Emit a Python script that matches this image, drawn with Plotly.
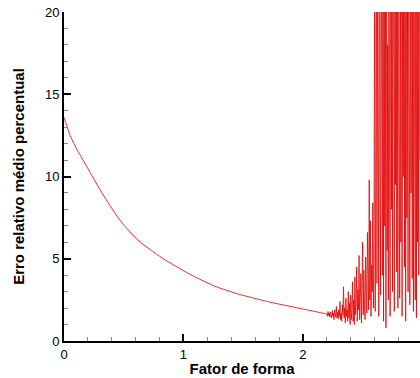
import numpy as np
import plotly.graph_objects as go

# Smooth part: x = 0.00 .. 2.15 step 0.05
smooth_x_step = 0.05
smooth_vals = [13.6, 12.5, 11.75, 11.1, 10.47, 9.85, 9.22, 8.62, 8.05, 7.52,
               7.05, 6.63, 6.26, 5.94, 5.66, 5.40, 5.15, 4.91, 4.69, 4.48,
               4.27, 4.07, 3.88, 3.70, 3.53, 3.37, 3.23, 3.10, 2.98, 2.87,
               2.77, 2.67, 2.58, 2.49, 2.40, 2.32, 2.24, 2.16, 2.08, 2.00,
               1.93, 1.86, 1.79, 1.72]

# Noisy part: x = 2.200 .. 2.980 step 0.005
noisy_x_start = 2.2
noisy_x_step = 0.005
noisy_vals = [
    1.65, 1.5, 1.8, 1.55, 1.7, 1.45, 1.75, 1.6, 1.4, 1.85,
    1.5, 1.7, 1.3, 1.9, 1.55, 1.45, 2.1, 1.4, 1.75, 1.35,
    1.9, 1.5, 2.4, 1.3, 1.7, 1.2, 2.2, 1.6, 3.3, 1.4,
    2.0, 1.1, 2.6, 1.5, 1.9, 1.2, 3.0, 1.4, 2.3, 1.0,
    2.8, 1.3, 1.9, 3.6, 1.2, 2.5, 1.0, 3.9, 1.6, 2.2,
    4.5, 1.2, 3.1, 1.9, 5.2, 1.3, 2.7, 4.1, 1.1, 3.4,
    6.0, 1.6, 4.3, 2.2, 1.3, 5.1, 2.8, 1.7, 6.6, 3.9,
    1.9, 9.8, 2.5, 7.3, 1.5, 4.6, 3.0, 8.4, 2.0, 5.5,
    24, 1.8, 9.0, 30, 3.5, 25, 6.5, 1.5, 35, 11,
    2.8, 28, 14, 4.0, 40, 1.2, 22, 7.0, 26, 0.8,
    33, 5.5, 18, 2.5, 30, 12, 1.5, 45, 8.0, 25,
    3.0, 38, 16, 1.8, 27, 9.5, 42, 4.2, 21, 2.0,
    35, 13, 2.6, 30, 6.0, 48, 1.5, 24, 10, 33,
    4.5, 28, 1.2, 40, 7.5, 22, 3.0, 36, 15, 2.2,
    31, 9.0, 44, 3.8, 26, 1.8, 38, 12, 2.5, 29,
    1.4, 35, 6.0, 23, 4.0, 40, 11,
]

x_tick_vals = [0, 1, 2]
x_tick_text = ["0", "1", "2"]
y_tick_vals = [0, 5, 10, 15, 20]
y_tick_text = ["0", "5", "10", "15", "20"]

xs = [round(i * smooth_x_step, 4) for i in range(len(smooth_vals))]
xs += [round(noisy_x_start + i * noisy_x_step, 4) for i in range(len(noisy_vals))]
ys = smooth_vals + noisy_vals

fig = go.Figure()
fig.add_trace(go.Scatter(x=xs, y=ys, mode="lines",
                         line=dict(color="rgb(225,0,0)", width=0.8),
                         showlegend=False, hoverinfo="skip"))

fig.update_layout(
    width=420, height=378,
    margin=dict(l=64, r=0, t=12, b=37),
    paper_bgcolor="white", plot_bgcolor="white",
    font=dict(family="Liberation Sans, Arial, sans-serif", size=13, color="black"),
    xaxis=dict(range=[0, 2.98], tickvals=x_tick_vals, ticktext=x_tick_text,
               ticks="inside", ticklen=7, tickwidth=2, tickcolor="black",
               showline=True, linewidth=2, linecolor="black",
               showgrid=False, zeroline=False,
               minor=dict(ticks="inside", dtick=0.2, tick0=0, ticklen=4,
                          tickwidth=1, tickcolor="#888888", showgrid=False),
               title=dict(text="<b>Fator de forma</b>", font=dict(size=15), standoff=3),
               tickfont=dict(size=13)),
    yaxis=dict(range=[0, 20], tickvals=y_tick_vals, ticktext=y_tick_text,
               ticks="inside", ticklen=7, tickwidth=2, tickcolor="black",
               showline=True, linewidth=2, linecolor="black",
               showgrid=False, zeroline=False,
               minor=dict(ticks="inside", dtick=1, tick0=0, ticklen=4,
                          tickwidth=1, tickcolor="#888888", showgrid=False),
               title=dict(text="<b>Erro relativo médio percentual</b>", font=dict(size=15), standoff=17),
               tickfont=dict(size=13)),
)

fig.write_html("out.html")
